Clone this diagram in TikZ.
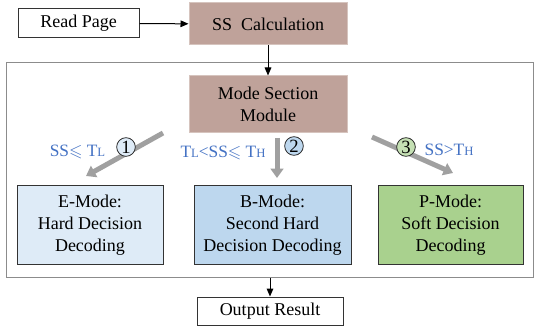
\documentclass[tikz,border=0pt]{standalone}
\usepackage{amsmath}
\usepackage{amssymb}
\usepackage{fontspec}
\setmainfont{LiberationSerif}[Extension=.ttf, UprightFont=*-Regular, BoldFont=*-Bold, ItalicFont=*-Italic, BoldItalicFont=*-BoldItalic]
\usepackage{tikz}
\usetikzlibrary{arrows.meta,shadows}
\tikzset{every picture/.style={line width=0.75pt}}
\definecolor{brownfill}{RGB}{191,162,154}
\definecolor{brownedge}{RGB}{214,196,190}
\definecolor{ebluefill}{RGB}{222,235,247}
\definecolor{bbluefill}{RGB}{189,215,238}
\definecolor{pgreenfill}{RGB}{169,209,142}
\definecolor{cgreenfill}{RGB}{197,224,180}
\definecolor{condblue}{RGB}{68,114,196}
\definecolor{pathgray}{RGB}{160,160,160}
\newcommand{\thr}[1]{T{\fontsize{9.5}{9.5}\selectfont #1}}
\tikzset{
  plainbox/.style={draw=black!80, fill=white, inner sep=0.75pt, align=center, font=\rmfamily\fontsize{13.5}{16.5}\selectfont},
  brownbox/.style={plainbox, draw=brownedge, fill=brownfill, minimum width=118.5pt},
  modebox/.style={plainbox, minimum height=58.5pt},
  pathline/.style={draw=pathgray, line width=3.75pt, -{Triangle[length=7pt,width=9.5pt]}},
  numcircle/.style={circle, draw=black!85, line width=0.6pt, minimum size=14pt, inner sep=0pt, font=\rmfamily\fontsize{14}{14}\selectfont},
  condlabel/.style={text=condblue, inner sep=0.75pt, font=\rmfamily\fontsize{13}{13}\selectfont}
}

\begin{document}
\begin{tikzpicture}[x=0.75pt,y=0.75pt,yscale=-1,xscale=1]
\useasboundingbox (0,0) rectangle (534,327);

%Shape: Frame
\node [draw=black!45, fill=white, minimum width=395.25pt, minimum height=160.5pt, inner sep=0pt,
  drop shadow={opacity=0.25, shadow xshift=0.8pt, shadow yshift=-0.8pt}] (frame) at (269.5,170) {};

%Shape: Rectangle
\node [plainbox, minimum width=90.75pt, minimum height=21.75pt] (read) at (78.5,23.5) {Read Page};
%Shape: Rectangle
\node [brownbox, minimum height=31.5pt] (calc) at (268,24) {SS\ \ Calculation};
%Shape: Rectangle
\node [brownbox, minimum height=42.75pt] (msm) at (268,104.5) {Mode Section\\Module};

%Shape: Rectangle
\node [modebox, fill=ebluefill, minimum width=109.5pt] (emode) at (90,225) {E-Mode:\\Hard Decision\\Decoding};
%Shape: Rectangle
\node [modebox, fill=bbluefill, minimum width=117.75pt] (bmode) at (272.5,225) {B-Mode:\\Second Hard\\Decision Decoding};
%Shape: Rectangle
\node [modebox, fill=pgreenfill, minimum width=108.75pt] (pmode) at (450.5,225) {P-Mode:\\Soft Decision\\Decoding};

%Shape: Rectangle
\node [plainbox, minimum width=109.5pt, minimum height=21pt] (out) at (270,311) {Output Result};

%Straight Lines
\draw [-{Triangle[length=6pt,width=5pt]}] (read) -- (calc);
\draw [-{Triangle[length=6pt,width=5pt]}] (calc) -- (msm);
\draw [-{Triangle[length=6pt,width=5pt]}] (out.north |- frame.south) -- (out);

%Thick gray arrows
\coordinate (p1s) at (163,133);
\coordinate (p1e) at (86,176);
\coordinate (p2s) at (277,138);
\coordinate (p2e) at (277,178);
\coordinate (p3s) at (372,137);
\coordinate (p3e) at (453,173);
\draw [pathline] (p1s) -- (p1e);
\draw [pathline] (p2s) -- (p2e);
\draw [pathline] (p3s) -- (p3e);

%Circles
\node [numcircle, fill=ebluefill] (c1) at (126,147) {1};
\node [numcircle, fill=bbluefill] (c2) at (294,146) {2};
\node [numcircle, fill=cgreenfill] (c3) at (406,147) {3};

% Text Node
\node [condlabel] (cond1) at (77.5,152) {SS$\leqslant$ \thr{L}};
% Text Node
\node [condlabel] (cond2) at (223,153) {\thr{L}<SS$\leqslant$ \thr{H}};
% Text Node
\node [condlabel] (cond3) at (449,150) {SS>\thr{H}};
\end{tikzpicture}
\end{document}
